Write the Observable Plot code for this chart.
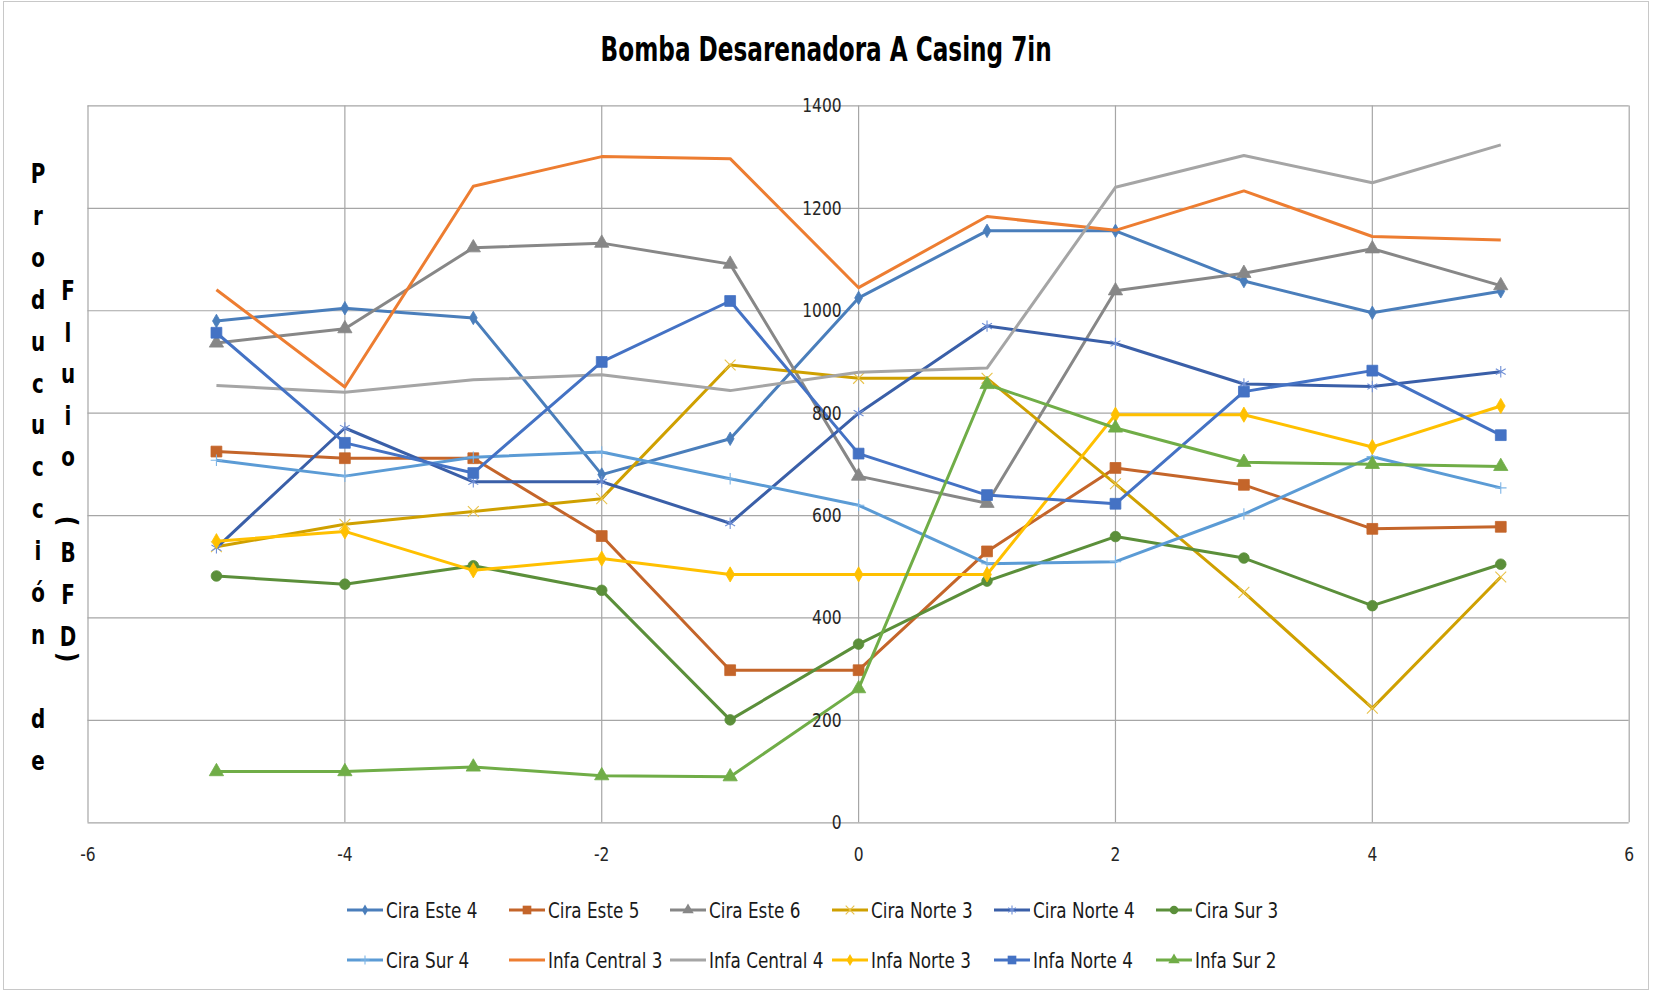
<!DOCTYPE html>
<html>
<head>
<meta charset="utf-8">
<script src="https://cdn.jsdelivr.net/npm/d3@7"></script>
<script src="https://cdn.jsdelivr.net/npm/@observablehq/plot@0.6"></script>
<style>
  body { margin: 0; background: #fff; }
  #chart { position: relative; width: 1653px; height: 994px; background: #fff; overflow: hidden;
           font-family: "Liberation Sans Narrow", "Arial Narrow", "DejaVu Sans Condensed", sans-serif; color: #262626; }
  #frame { position: absolute; left: 3px; top: 1px; width: 1646px; height: 989px; border: 1px solid #c8c8c8; box-sizing: border-box; }
  #title { position: absolute; left: 0; top: 0; width: 1653px; height: 80px; text-align: center;
           font-weight: bold; font-size: 33px; line-height: 33px; padding-top: 33px; box-sizing: border-box; color: #000; }
  #title span { display: inline-block; transform: scaleX(0.78); transform-origin: 50% 50%; }
  #plot { position: absolute; left: 0; top: 80px; }
  #ytitle { position: absolute; left: 0; top: 0; width: 90px; height: 994px; pointer-events: none; }
  .yc { position: absolute; font-weight: bold; font-size: 26px; line-height: 26px; color: #000; transform: translate(-50%, -100%) scaleX(0.85); }
  .yp { position: absolute; font-weight: bold; font-size: 26px; line-height: 26px; color: #000; transform: translate(-50%, -50%) rotate(90deg); }
  #legend { position: absolute; left: 0; top: 880px; width: 1653px; height: 110px; }
  .li { position: absolute; height: 24px; display: flex; align-items: center; font-size: 22px; color: #1a1a1a; white-space: nowrap; }
  .li svg { flex: none; margin-right: 3px; }
  .li span { display: inline-block; transform: scaleX(0.85); transform-origin: 0 50%; }
</style>
</head>
<body>
<div id="chart">
  <div id="frame"></div>
  <div id="title"></div>
  <div id="plot"></div>
  <div id="ytitle"></div>
  <div id="legend"></div>
</div>
<script>
// ---------- data ----------
const titleText = "Bomba Desarenadora A Casing 7in";
const xValues = [-5, -4, -3, -2, -1, 0, 1, 2, 3, 4, 5];
const xTicks = [-6, -4, -2, 0, 2, 4, 6];
const yTicks = [0, 200, 400, 600, 800, 1000, 1200, 1400];

const seriesNames = ["Cira Este 4", "Cira Este 5", "Cira Este 6", "Cira Norte 3", "Cira Norte 4", "Cira Sur 3",
                     "Cira Sur 4", "Infa Central 3", "Infa Central 4", "Infa Norte 3", "Infa Norte 4", "Infa Sur 2"];
const seriesColors = ["#4a7ebb", "#c4652a", "#878787", "#cfa000", "#3a5fa8", "#5b8f3a",
                      "#5b9bd5", "#ed7d31", "#a5a5a5", "#ffc000", "#4472c4", "#70ad47"];
const markerColors = ["#4a7ebb", "#c4652a", "#878787", "#e8c24a", "#6f8fd6", "#5b8f3a",
                      "#7eb5e6", null, null, "#ffc000", "#4472c4", "#70ad47"];
const markerSymbols = ["diamond", "square", "triangle", "times", "asterisk", "circle",
                       "plus", null, null, "diamond", "square", "triangle"];

const ciraEste4    = [980, 1005, 986, 680, 750, 1025, 1156, 1156, 1058, 996, 1038];
const ciraEste5    = [725, 712, 712, 560, 298, 298, 530, 693, 660, 574, 578];
const ciraEste6    = [937, 965, 1123, 1132, 1091, 677, 624, 1039, 1073, 1121, 1049];
const ciraNorte3   = [539, 583, 608, 633, 894, 868, 868, 662, 450, 224, 480];
const ciraNorte4   = [537, 771, 666, 666, 585, 800, 970, 936, 857, 852, 881];
const ciraSur3     = [482, 466, 502, 454, 201, 349, 472, 559, 517, 424, 505];
const ciraSur4     = [708, 677, 714, 724, 672, 620, 506, 510, 603, 715, 654];
const infaCentral3 = [1041, 851, 1243, 1301, 1297, 1045, 1184, 1157, 1234, 1145, 1138];
const infaCentral4 = [854, 841, 865, 875, 844, 880, 888, 1241, 1303, 1250, 1324];
const infaNorte3   = [550, 569, 493, 516, 485, 485, 485, 797, 797, 734, 814];
const infaNorte4   = [957, 742, 683, 900, 1019, 721, 640, 623, 842, 883, 757];
const infaSur2     = [100, 100, 109, 92, 90, 262, 856, 771, 704, 700, 696];
const seriesValues = [ciraEste4, ciraEste5, ciraEste6, ciraNorte3, ciraNorte4, ciraSur3,
                      ciraSur4, infaCentral3, infaCentral4, infaNorte3, infaNorte4, infaSur2];

const yTitleCol1 = ["P", "r", "o", "d", "u", "c", "u", "c", "c", "i", "ó", "n", " ", "d", "e"];
const yTitleCol2 = ["F", "l", "u", "i", "o", "(", "B", "F", "D", ")"];

// ---------- styling helpers ----------
const markerSizes = [4.1, 6.1, 5.3, 5.0, 5.4, 5.3, 3.8, 0, 0, 4.6, 6.1, 5.3];
const strokeSymbols = new Set(["times", "asterisk", "plus"]);

// ---------- title ----------
const ts = document.createElement("span");
ts.textContent = titleText;
document.getElementById("title").appendChild(ts);

// ---------- plot ----------
const rows = seriesNames.flatMap((s, i) => xValues.map((x, j) => ({series: s, x, y: seriesValues[i][j]})));

const marks = [
  Plot.gridX(xTicks, {stroke: "#a6a6a6", strokeOpacity: 1, strokeWidth: 1.2}),
  Plot.gridY(yTicks, {stroke: "#a6a6a6", strokeOpacity: 1, strokeWidth: 1.2})
];
seriesNames.forEach((s, i) => {
  const d = rows.filter(r => r.series === s);
  marks.push(Plot.line(d, {x: "x", y: "y", stroke: seriesColors[i], strokeWidth: 3,
                           strokeLinejoin: "round", strokeLinecap: "butt"}));
  const sym = markerSymbols[i];
  if (sym) {
    if (strokeSymbols.has(sym)) {
      marks.push(Plot.dot(d, {x: "x", y: "y", symbol: sym, r: markerSizes[i], stroke: markerColors[i],
                              strokeWidth: 1.1, fill: "none"}));
    } else {
      marks.push(Plot.dot(d, {x: "x", y: "y", symbol: sym, r: markerSizes[i], fill: markerColors[i],
                              stroke: markerColors[i], strokeWidth: 0.8}));
    }
  }
});
marks.push(Plot.text(yTicks, {x: 0, y: d => d, text: d => String(d), textAnchor: "end", dx: -17,
                              lineAnchor: "middle", fontSize: 20, fill: "#262626"}));
marks.push(Plot.text(xTicks, {x: d => d, y: 0, text: d => String(d), dy: 32,
                              lineAnchor: "middle", fontSize: 20, fill: "#262626"}));

const chart = Plot.plot({
  width: 1653,
  height: 800,
  marginLeft: 87.5,
  marginRight: 24.3,
  marginTop: 25.4,
  marginBottom: 57.7,
  x: {domain: [-6, 6], axis: null},
  y: {domain: [0, 1400], axis: null},
  style: {fontFamily: '"Liberation Sans Narrow", "Arial Narrow", "DejaVu Sans Condensed", sans-serif',
          fontSize: "20px", background: "transparent", overflow: "visible"},
  marks
});
// condense the tick label text horizontally (Calibri-like proportions)
d3.select(chart).selectAll("text").each(function () {
  const t = this.getAttribute("transform");
  if (t) {
    this.setAttribute("transform", t + " scale(0.86,1)");
  } else {
    const x = +(this.getAttribute("x") || 0), y = +(this.getAttribute("y") || 0);
    this.setAttribute("x", 0); this.setAttribute("y", 0);
    this.setAttribute("transform", `translate(${x},${y}) scale(0.86,1)`);
  }
});
document.getElementById("plot").appendChild(chart);

// ---------- vertical (stacked) y-axis title ----------
const yt = document.getElementById("ytitle");
yTitleCol1.forEach((ch, i) => {
  const el = document.createElement("div");
  el.className = "yc";
  el.textContent = ch;
  el.style.left = "38px";
  el.style.top = (187 + 41.9 * i) + "px";
  yt.appendChild(el);
});
const col2Pos = [304, 346, 387, 429, 470, 521, 566, 608, 650, 657];
yTitleCol2.forEach((ch, i) => {
  const el = document.createElement("div");
  const paren = ch === "(" || ch === ")";
  el.className = paren ? "yp" : "yc";
  el.textContent = ch;
  el.style.left = "68px";
  el.style.top = col2Pos[i] + "px";
  yt.appendChild(el);
});

// ---------- legend ----------
const lg = document.getElementById("legend");
const symMap = {diamond: d3.symbolDiamond, square: d3.symbolSquare, triangle: d3.symbolTriangle,
                circle: d3.symbolCircle, times: d3.symbolTimes, asterisk: d3.symbolAsterisk, plus: d3.symbolPlus};
seriesNames.forEach((s, i) => {
  const col = i % 6, row = Math.floor(i / 6);
  const item = document.createElement("div");
  item.className = "li";
  item.style.left = (347 + 161.7 * col) + "px";
  item.style.top = (18 + 50 * row) + "px";
  const svg = d3.create("svg").attr("width", 36).attr("height", 24);
  svg.append("line").attr("x1", 0).attr("x2", 36).attr("y1", 12).attr("y2", 12)
     .attr("stroke", seriesColors[i]).attr("stroke-width", 3);
  const sym = markerSymbols[i];
  if (sym) {
    const r = markerSizes[i] * 0.8;
    const p = svg.append("path").attr("transform", "translate(18,12)")
       .attr("d", d3.symbol(symMap[sym], Math.PI * r * r)());
    if (strokeSymbols.has(sym)) p.attr("fill", "none").attr("stroke", markerColors[i]).attr("stroke-width", 1.1);
    else p.attr("fill", markerColors[i]);
  }
  item.appendChild(svg.node());
  const t = document.createElement("span");
  t.textContent = s;
  item.appendChild(t);
  lg.appendChild(item);
});
</script>
</body>
</html>
